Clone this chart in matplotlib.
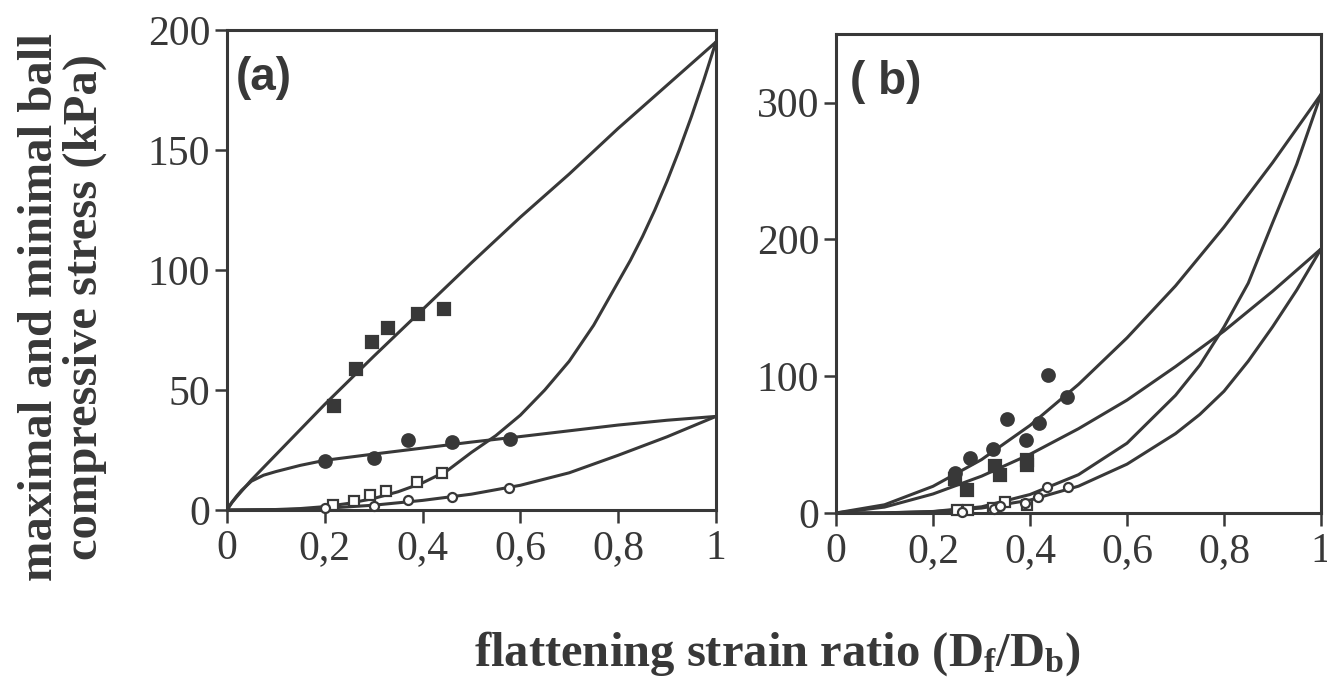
import matplotlib
matplotlib.use("Agg")
import matplotlib.pyplot as plt

# ---------------- data ----------------
# panel (a) measured points
a_fsq_x = [0.218, 0.263, 0.297, 0.330, 0.391, 0.443]
a_fsq_y = [43.5, 58.9, 70.0, 76.0, 81.6, 83.7]
a_fci_x = [0.201, 0.301, 0.371, 0.460, 0.578]
a_fci_y = [20.6, 21.6, 29.3, 28.3, 29.6]
a_osq_x = [0.217, 0.260, 0.293, 0.325, 0.388, 0.439]
a_osq_y = [2.1, 3.9, 6.3, 8.0, 11.6, 15.6]
a_oci_x = [0.200, 0.300, 0.371, 0.460, 0.576]
a_oci_y = [0.7, 1.7, 4.2, 5.6, 9.1]

# panel (a) model curves
a_c1_x = [0, 0.01, 0.02, 0.05, 0.1, 0.2, 0.3, 0.4, 0.5, 0.6, 0.7, 0.8, 0.9, 1.0]
a_c1_y = [0, 3, 5.5, 12.5, 23, 44, 64, 83.5, 103, 122, 140, 159, 177, 195]
a_c2_x = [0, 0.01, 0.02, 0.03, 0.05, 0.075, 0.1, 0.15, 0.2, 0.3, 0.4, 0.5, 0.6, 0.7, 0.8, 0.9, 1.0]
a_c2_y = [0, 3.2, 5.8, 8.2, 12, 14.5, 16, 18.6, 20.7, 23.3, 25.8, 28.3, 30.6, 33, 35.4, 37.4, 39]
a_c3_x = [0, 0.1, 0.15, 0.2, 0.25, 0.3, 0.35, 0.4, 0.45, 0.5, 0.55, 0.6, 0.65, 0.7,
          0.75, 0.8, 0.825, 0.85, 0.875, 0.9, 0.925, 0.95, 0.975, 1.0]
a_c3_y = [0, 0.2, 0.6, 1.4, 2.8, 4.8, 7.6, 11.3, 16.3, 24, 31, 39.5, 50, 62,
          77, 95, 104, 114, 125, 137, 150, 164, 179, 195]
a_c4_x = [0, 0.1, 0.15, 0.2, 0.3, 0.4, 0.5, 0.6, 0.7, 0.8, 0.9, 1.0]
a_c4_y = [0, 0.1, 0.3, 0.7, 2, 4, 6.6, 10.3, 15.5, 22.8, 30.5, 39]

# panel (b) measured points
b_fci_x = [0.245, 0.276, 0.324, 0.352, 0.392, 0.419, 0.438, 0.477]
b_fci_y = [29, 40, 47, 69, 53, 66, 101, 85]
b_fsq_x = [0.245, 0.270, 0.328, 0.338, 0.394, 0.394]
b_fsq_y = [25, 17, 34, 28, 39, 35]
b_osq_x = [0.249, 0.273, 0.324, 0.348, 0.393]
b_osq_y = [2, 2, 4, 8, 6]
b_oci_x = [0.260, 0.325, 0.338, 0.390, 0.417, 0.434, 0.479]
b_oci_y = [1, 3, 5, 7, 12, 19, 19]

# panel (b) model curves
b_cx = [0, 0.1, 0.2, 0.3, 0.4, 0.5, 0.6, 0.7, 0.8, 0.9, 1.0]
b_c1_y = [0, 6, 19.5, 39, 64, 94, 128, 166, 209, 256, 306]
b_c2_y = [0, 4.3, 13.9, 26.9, 42.9, 61.6, 82.5, 107, 133, 162, 193]
b_cx_steep = [0, 0.1, 0.2, 0.3, 0.4, 0.5, 0.6, 0.7, 0.75, 0.8, 0.85, 0.9, 0.95, 1.0]
b_c3_y = [0, 0.1, 1.1, 4.5, 13.5, 28, 51, 86, 108, 136, 168, 212, 255, 306]
b_c4_y = [0, 0.05, 0.95, 3.6, 9.4, 19.6, 35.7, 58, 72, 89, 111, 136, 163, 193]

xticks = [0, 0.2, 0.4, 0.6, 0.8, 1.0]
xticklabels = ["0", "0,2", "0,4", "0,6", "0,8", "1"]
a_yticks = [0, 50, 100, 150, 200]
b_yticks = [0, 100, 200, 300]

# ---------------- style ----------------
INK = "#383838"
LW = 2.2
SERIF = ["Liberation Serif", "DejaVu Serif"]
plt.rcParams["font.family"] = SERIF
plt.rcParams["mathtext.fontset"] = "custom"
plt.rcParams["mathtext.rm"] = "Liberation Serif"
plt.rcParams["mathtext.bf"] = "Liberation Serif:bold"
plt.rcParams["mathtext.it"] = "Liberation Serif:italic"

fig = plt.figure(figsize=(13.27, 6.92), dpi=100)
axa = fig.add_axes([0.171, 0.263, 0.3685, 0.6936])
axb = fig.add_axes([0.630, 0.2587, 0.3655, 0.692])


def style(ax, yticks, ylim):
    ax.set_xlim(0, 1)
    ax.set_ylim(*ylim)
    ax.set_xticks(xticks)
    ax.set_xticklabels(xticklabels)
    ax.set_yticks(yticks)
    for s in ax.spines.values():
        s.set_color(INK)
        s.set_linewidth(LW)
    ax.tick_params(direction="out", length=9, width=1.8, color=INK,
                   labelsize=30, labelcolor=INK, pad=3)
    ax.tick_params(axis="x", pad=5)


style(axa, a_yticks, (0, 200))
style(axb, b_yticks, (0, 350))

line_kw = dict(color=INK, lw=LW, solid_capstyle="round", solid_joinstyle="round", zorder=2)
for cx, cy in [(a_c1_x, a_c1_y), (a_c2_x, a_c2_y), (a_c3_x, a_c3_y), (a_c4_x, a_c4_y)]:
    axa.plot(cx, cy, **line_kw)
for cx, cy in [(b_cx, b_c1_y), (b_cx, b_c2_y), (b_cx_steep, b_c3_y), (b_cx_steep, b_c4_y)]:
    axb.plot(cx, cy, **line_kw)


def pts(ax, x, y, marker, filled, ms):
    ax.plot(x, y, ls="none", marker=marker, ms=ms,
            mfc=INK if filled else "white", mec=INK, mew=1.6, zorder=3,
            clip_on=False)


pts(axa, a_fsq_x, a_fsq_y, "s", True, 8.5)
pts(axa, a_fci_x, a_fci_y, "o", True, 9)
pts(axa, a_osq_x, a_osq_y, "s", False, 6.5)
pts(axa, a_oci_x, a_oci_y, "o", False, 6.5)

pts(axb, b_fci_x, b_fci_y, "o", True, 9)
pts(axb, b_fsq_x, b_fsq_y, "s", True, 8.5)
pts(axb, b_osq_x, b_osq_y, "s", False, 6.5)
pts(axb, b_oci_x, b_oci_y, "o", False, 6.5)

SANS = ["Liberation Sans", "DejaVu Sans"]
axa.text(0.018, 0.945, "(a)", transform=axa.transAxes, fontsize=33,
         fontweight="bold", family=SANS, color=INK, va="top", ha="left")
axb.text(0.028, 0.945, "( b)", transform=axb.transAxes, fontsize=33,
         fontweight="bold", family=SANS, color=INK, va="top", ha="left")

fig.text(0.047, 0.557, "maximal and minimal ball\ncompressive stress (kPa)",
         rotation=90, ha="center", va="center", fontsize=35,
         fontweight="bold", color=INK, linespacing=1.0)
fig.text(0.586, 0.055, r"flattening strain ratio (D$_\mathbf{f}$/D$_\mathbf{b}$)",
         ha="center", va="center", fontsize=35, fontweight="bold", color=INK)

fig.savefig("out.png", dpi=100, facecolor="white")
